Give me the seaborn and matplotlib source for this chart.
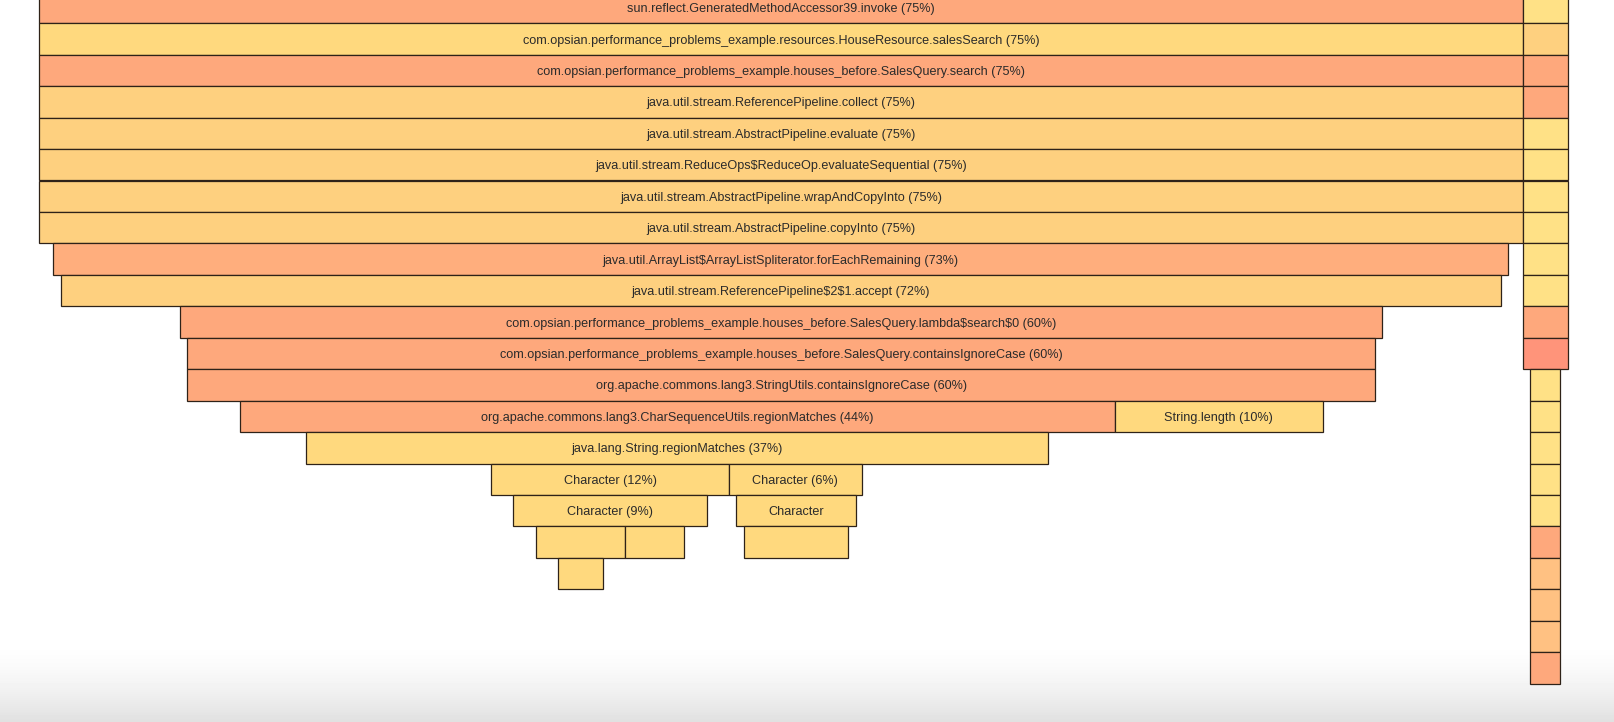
import numpy as np
import matplotlib
matplotlib.use("Agg")
import matplotlib.pyplot as plt
import seaborn as sns

sns.set_theme(style="white")
plt.rcParams['font.family'] = ['Liberation Sans', 'DejaVu Sans']

# flame graph frames: stack depth, start and width in % of samples
frame_depth = [0, 1, 2, 3, 4, 5, 6, 7, 8, 9, 10, 11, 12, 13, 13, 14, 15, 15, 16, 16, 17, 17, 17, 18]
frame_start = [0.0, 0.0, 0.0, 0.0, 0.0, 0.0, 0.0, 0.0, 0.73, 1.10, 7.14, 7.50, 7.50, 10.16, 54.35,
               13.49, 22.84, 34.88, 23.97, 35.22, 25.10, 29.61, 35.61, 26.24]
frame_width = [75.0, 75.0, 75.0, 75.0, 75.0, 75.0, 75.0, 75.0, 73.5, 72.76, 60.74, 60.0, 60.0, 44.19, 10.55,
               37.52, 12.04, 6.69, 9.79, 6.05, 4.51, 2.99, 5.27, 2.27]
frame_tone = ["salmon", "gold", "salmon", "amber", "amber", "amber", "amber", "amber", "peach", "amber",
              "salmon", "salmon", "salmon", "salmon", "gold", "gold", "gold", "gold", "gold", "gold",
              "gold", "gold", "gold", "gold"]
frame_label = [
    "sun.reflect.GeneratedMethodAccessor39.invoke (75%)",
    "com.opsian.performance_problems_example.resources.HouseResource.salesSearch (75%)",
    "com.opsian.performance_problems_example.houses_before.SalesQuery.search (75%)",
    "java.util.stream.ReferencePipeline.collect (75%)",
    "java.util.stream.AbstractPipeline.evaluate (75%)",
    "java.util.stream.ReduceOps$ReduceOp.evaluateSequential (75%)",
    "java.util.stream.AbstractPipeline.wrapAndCopyInto (75%)",
    "java.util.stream.AbstractPipeline.copyInto (75%)",
    "java.util.ArrayList$ArrayListSpliterator.forEachRemaining (73%)",
    "java.util.stream.ReferencePipeline$2$1.accept (72%)",
    "com.opsian.performance_problems_example.houses_before.SalesQuery.lambda$search$0 (60%)",
    "com.opsian.performance_problems_example.houses_before.SalesQuery.containsIgnoreCase (60%)",
    "org.apache.commons.lang3.StringUtils.containsIgnoreCase (60%)",
    "org.apache.commons.lang3.CharSequenceUtils.regionMatches (44%)",
    "String.length (10%)",
    "java.lang.String.regionMatches (37%)",
    "Character (12%)",
    "Character (6%)",
    "Character (9%)",
    "Character",
    "", "", "", "",
]

# the neighbouring narrow stack on the right edge
side_depth = list(range(22))
side_start = [75.0] * 12 + [75.34] * 10
side_width = [2.24] * 12 + [1.53] * 10
side_tone = ["lemon", "amber", "salmon", "salmon", "lemon", "lemon", "lemon", "lemon", "lemon", "lemon",
             "salmon", "coral",
             "lemon", "lemon", "lemon", "lemon", "lemon", "salmon", "apricot", "apricot", "apricot", "salmon"]

palette = {
    "salmon": "#FEA87C",
    "peach": "#FFAE7D",
    "amber": "#FED07F",
    "gold": "#FFD97E",
    "lemon": "#FFE186",
    "apricot": "#FFC182",
    "coral": "#FF947A",
}

fig = plt.figure(figsize=(16.15, 7.22), dpi=100)

# faint grey fade at the bottom of the screen capture
bg = fig.add_axes([0, 0, 1, 1])
fade = np.concatenate([np.zeros(640), np.linspace(0, 1, 82) ** 1.6])[:, None]
bg.imshow(1 - 0.12 * fade, cmap="gray", vmin=0, vmax=1, aspect="auto", extent=[0, 1, 0, 1])
bg.axis("off")

ax = fig.add_axes([0, 0, 1, 1])
ax.patch.set_alpha(0)

all_depth = frame_depth + side_depth
all_start = frame_start + side_start
all_width = frame_width + side_width
all_tone = frame_tone + side_tone

ax.barh([d + 0.5 for d in all_depth], all_width, left=all_start, height=1.0,
        color=[palette[t] for t in all_tone], edgecolor="#2e2218", linewidth=0.9)

for d, s, w, lab in zip(frame_depth, frame_start, frame_width, frame_label):
    if lab:
        ax.text(s + w / 2, d + 0.55, lab, ha="center", va="center", fontsize=9.05,
                color="#2b2b2b", parse_math=False)

ax.set_xlim(-1.97, 79.64)
ax.set_ylim(23.22, 0.26)
ax.axis("off")

fig.savefig("out.png", dpi=100)
